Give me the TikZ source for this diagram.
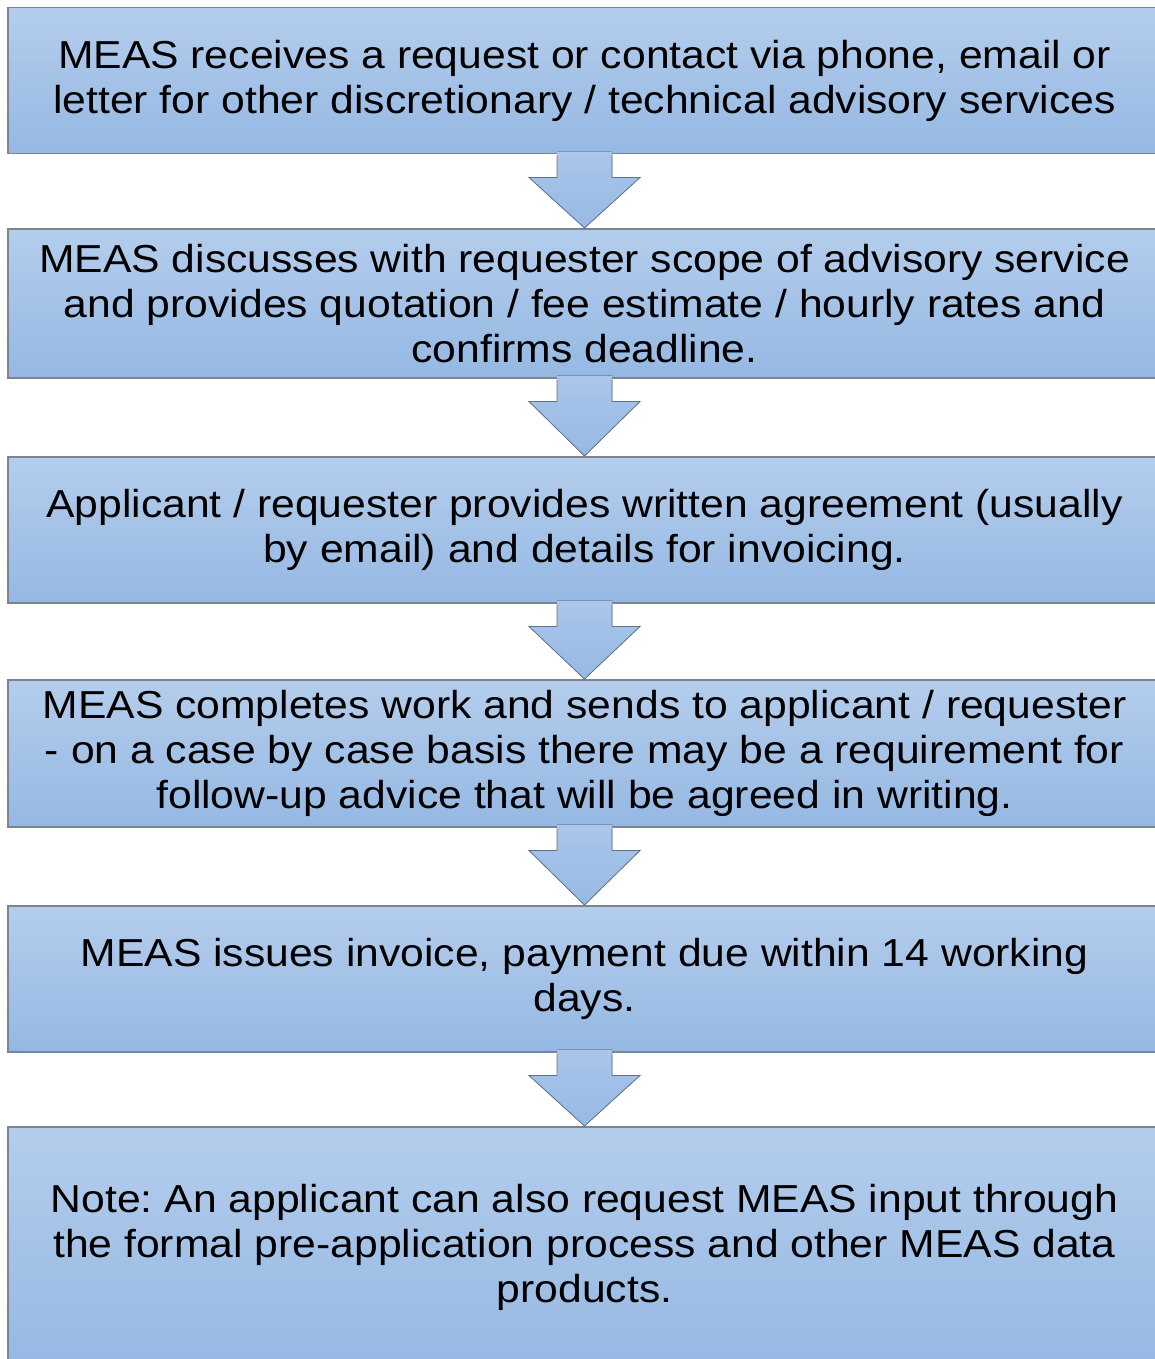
\documentclass[tikz,border=0pt]{standalone}
\usepackage{fontspec}
\setmainfont{Liberation Sans}[FakeStretch=1.094]
\usetikzlibrary{calc}
\definecolor{boxtop}{RGB}{180,205,236}
\definecolor{boxbot}{RGB}{149,184,227}
\definecolor{arrtop}{RGB}{170,198,234}
\definecolor{arrbot}{RGB}{150,185,228}
\definecolor{edgegray}{RGB}{125,132,145}
\definecolor{arredge}{RGB}{95,115,140}
\frenchspacing
\tikzset{
  stage/.style={draw=edgegray, line width=1.5pt, top color=boxtop, bottom color=boxbot,
    minimum width=1153pt, inner sep=0pt, align=center, anchor=north,
    font=\fontsize{39}{45}\selectfont\frenchspacing},
  arrfill/.style={top color=arrtop, bottom color=arrbot},
  arrline/.style={draw=arredge, line width=0.8pt, line join=miter},
}
\newcommand\flowarrow[2]{%
  \fill[arrfill] ($(#1.south)+(-27.5,-3)$) -- ($(#1.south)+(-27.5,23)$) -- ($(#1.south)+(-55.5,23)$)
    -- (#2.north) -- ($(#1.south)+(55.5,23)$) -- ($(#1.south)+(27.5,23)$) -- ($(#1.south)+(27.5,-3)$) -- cycle;
  \draw[arrline] ($(#1.south)+(-27.5,1)$) -- ($(#1.south)+(-27.5,23)$) -- ($(#1.south)+(-55.5,23)$)
    -- (#2.north) -- ($(#1.south)+(55.5,23)$) -- ($(#1.south)+(27.5,23)$) -- ($(#1.south)+(27.5,1)$);
}
\begin{document}
\begin{tikzpicture}[x=1pt,y=-1pt]
\useasboundingbox (0,0) rectangle (1154,1359);
\node[stage, minimum height=146pt] (b1) at (584.5,7)
  {MEAS receives a request or contact via phone, email or\\letter for other discretionary / technical advisory services};
\node[stage, minimum height=149pt] (b2) at (584.5,228)
  {MEAS discusses with requester scope of advisory service\\and provides quotation / fee estimate / hourly rates and\\confirms deadline.};
\node[stage, minimum height=146pt] (b3) at (584.5,456)
  {Applicant / requester provides written agreement (usually\\by email) and details for invoicing.};
\node[stage, minimum height=147pt] (b4) at (584.5,679)
  {MEAS completes work and sends to applicant / requester\\- on a case by case basis there may be a requirement for\\follow-up advice that will be agreed in writing.};
\node[stage, minimum height=146pt] (b5) at (584.5,905)
  {MEAS issues invoice, payment due within 14 working\\days.};
\node[stage, minimum height=242pt] (b6) at (584.5,1126)
  {Note: An applicant can also request MEAS input through\\the formal pre-application process and other MEAS data\\products.};
\flowarrow{b1}{b2}
\flowarrow{b2}{b3}
\flowarrow{b3}{b4}
\flowarrow{b4}{b5}
\flowarrow{b5}{b6}
\end{tikzpicture}
\end{document}
